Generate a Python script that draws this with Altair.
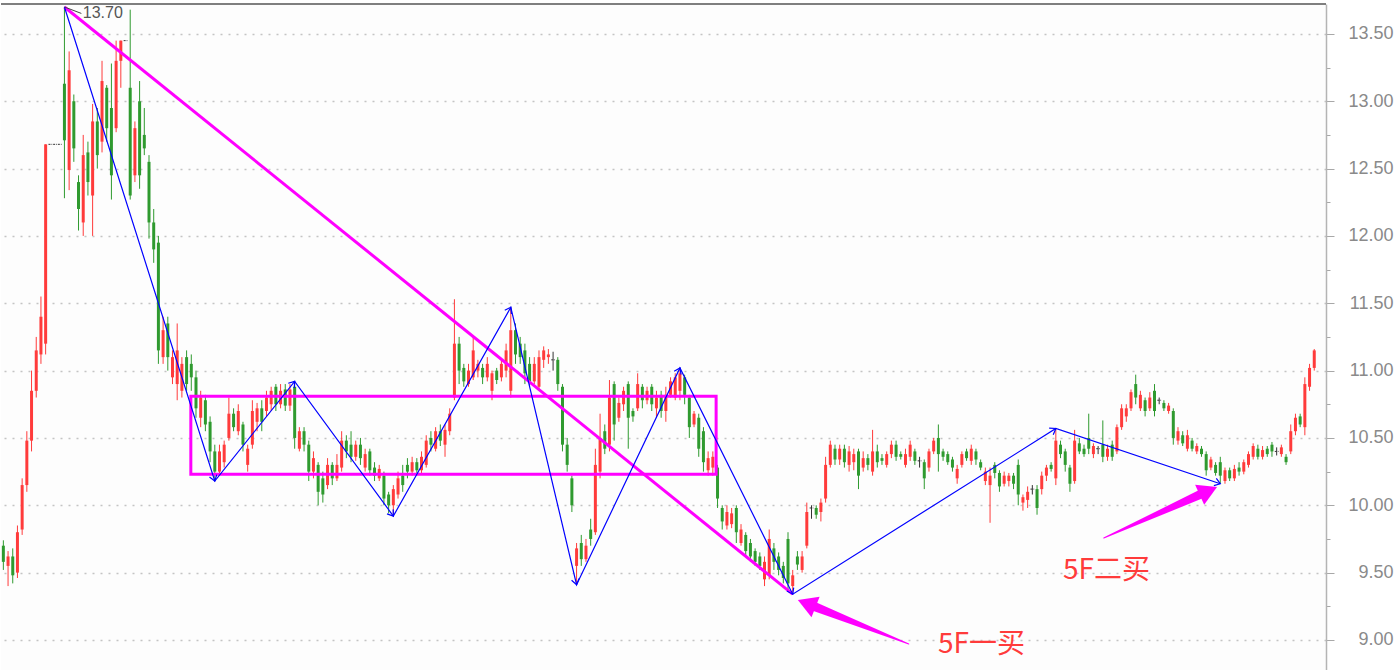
import math
import altair as alt
import pandas as pd

# 5-minute bars: open / high / low / close
opens = [
    9.70, 9.55, 9.62, 9.50, 9.82, 10.15, 10.48, 10.85, 11.12, 11.20,
    12.68, 12.68, 12.68, 13.13, 12.49, 13.00, 12.40, 12.10, 12.62, 12.30,
    12.85, 12.70, 13.10, 12.95, 12.80, 13.30, 13.45, 13.10, 12.45, 13.00,
    12.75, 12.55, 12.10, 11.95, 11.10, 11.35, 10.95, 10.90, 10.85, 11.10,
    11.05, 10.95, 10.65, 10.78, 10.62, 10.40, 10.25, 10.32, 10.50, 10.68,
    10.55, 10.60, 10.30, 10.45, 10.62, 10.72, 10.70, 10.75, 10.88, 10.75,
    10.86, 10.74, 10.88, 10.42, 10.55, 10.45, 10.25, 10.30, 10.20, 10.15,
    10.30, 10.20, 10.28, 10.48, 10.45, 10.36, 10.45, 10.28, 10.40, 10.28,
    10.20, 10.22, 10.08, 10.00, 10.08, 10.22, 10.30, 10.25, 10.32, 10.26,
    10.30, 10.50, 10.42, 10.55, 10.45, 10.55, 10.80, 11.20, 11.02, 10.90,
    10.95, 11.00, 11.02, 10.95, 10.85, 11.00, 10.95, 11.00, 10.85, 11.30,
    11.20, 11.15, 11.05, 10.92, 10.88, 11.08, 11.10, 11.08, 11.08, 10.88,
    10.45, 10.20, 9.55, 9.72, 9.60, 9.82, 9.80, 10.25, 10.55, 10.45,
    10.90, 10.65, 10.75, 10.90, 10.70, 10.72, 10.88, 10.78, 10.88, 10.72,
    10.82, 10.70, 10.82, 10.80, 10.85, 10.95, 10.80, 10.60, 10.65, 10.55,
    10.26, 10.28, 10.28, 9.98, 9.85, 9.86, 9.98, 9.72, 9.78, 9.72,
    9.66, 9.62, 9.45, 9.48, 9.68, 9.62, 9.55, 9.75, 9.40, 9.62,
    9.52, 9.70, 9.98, 9.98, 9.95, 10.05, 10.30, 10.42, 10.34, 10.42,
    10.30, 10.32, 10.40, 10.28, 10.35, 10.25, 10.40, 10.35, 10.30, 10.38,
    10.45, 10.38, 10.30, 10.36, 10.40, 10.33, 10.32, 10.28, 10.40, 10.50,
    10.40, 10.38, 10.34, 10.20, 10.30, 10.40, 10.33, 10.40, 10.32, 10.18,
    10.15, 10.30, 10.24, 10.16, 10.18, 10.22, 10.30, 10.02, 10.04, 10.12,
    10.12, 10.12, 10.22, 10.30, 10.20, 10.45, 10.40, 10.28, 10.18, 10.46,
    10.42, 10.50, 10.38, 10.42, 10.45, 10.36, 10.45, 10.40, 10.58, 10.66,
    10.72, 10.90, 10.72, 10.78, 10.72, 10.85, 10.78, 10.76, 10.70, 10.70,
    10.48, 10.52, 10.42, 10.48, 10.40, 10.42, 10.38, 10.28, 10.30, 10.32,
    10.18, 10.26, 10.20, 10.28, 10.25, 10.30, 10.36, 10.42, 10.36, 10.42,
    10.45, 10.40, 10.38, 10.36, 10.40, 10.55, 10.66, 10.58, 10.88, 11.02,
]
highs = [
    9.74, 9.66, 9.68, 9.85, 10.20, 10.55, 11.00, 11.25, 11.55, 12.68,
    12.68, 12.68, 12.68, 13.70, 13.37, 13.05, 12.45, 12.75, 12.70, 12.98,
    12.95, 13.30, 13.12, 13.28, 13.45, 13.45, 13.45, 13.68, 12.85, 13.15,
    12.95, 12.60, 12.20, 12.00, 11.40, 11.40, 11.15, 11.35, 11.10, 11.15,
    11.12, 11.00, 10.85, 10.82, 10.66, 10.45, 10.45, 10.48, 10.80, 10.72,
    10.75, 10.62, 10.45, 10.78, 10.76, 10.78, 10.85, 10.88, 10.90, 10.90,
    10.90, 10.90, 10.92, 10.58, 10.58, 10.48, 10.40, 10.32, 10.25, 10.35,
    10.32, 10.38, 10.55, 10.52, 10.55, 10.48, 10.50, 10.42, 10.42, 10.32,
    10.30, 10.25, 10.10, 10.15, 10.25, 10.30, 10.35, 10.36, 10.35, 10.40,
    10.52, 10.55, 10.58, 10.60, 10.60, 10.72, 11.53, 11.25, 11.05, 11.05,
    11.25, 11.08, 11.05, 11.10, 11.00, 11.02, 11.08, 11.20, 11.47, 11.35,
    11.25, 11.20, 11.10, 11.10, 11.15, 11.18, 11.16, 11.14, 11.10, 10.90,
    10.50, 10.22, 9.72, 9.78, 9.75, 9.90, 10.42, 10.68, 10.60, 10.93,
    10.92, 10.80, 10.88, 10.92, 10.72, 10.98, 10.90, 10.88, 10.90, 10.85,
    10.85, 10.88, 10.95, 10.98, 11.02, 10.97, 10.82, 10.70, 10.68, 10.58,
    10.40, 10.40, 10.30, 10.00, 10.00, 9.98, 10.00, 9.86, 9.80, 9.75,
    9.68, 9.65, 9.62, 9.82, 9.72, 9.65, 9.58, 9.80, 9.52, 9.66,
    9.66, 10.02, 10.00, 10.00, 10.05, 10.36, 10.48, 10.45, 10.45, 10.45,
    10.44, 10.42, 10.42, 10.40, 10.38, 10.56, 10.45, 10.38, 10.40, 10.48,
    10.48, 10.40, 10.42, 10.48, 10.42, 10.36, 10.34, 10.42, 10.50, 10.60,
    10.42, 10.40, 10.36, 10.30, 10.40, 10.42, 10.45, 10.42, 10.34, 10.28,
    10.28, 10.32, 10.26, 10.25, 10.24, 10.24, 10.34, 10.08, 10.14, 10.15,
    10.15, 10.25, 10.30, 10.32, 10.57, 10.48, 10.42, 10.30, 10.56, 10.50,
    10.45, 10.68, 10.46, 10.44, 10.63, 10.45, 10.48, 10.60, 10.75, 10.75,
    10.86, 10.97, 10.85, 10.80, 10.84, 10.90, 10.80, 10.78, 10.76, 10.72,
    10.58, 10.55, 10.56, 10.50, 10.46, 10.44, 10.40, 10.36, 10.32, 10.36,
    10.28, 10.28, 10.30, 10.32, 10.34, 10.40, 10.46, 10.45, 10.44, 10.44,
    10.47, 10.43, 10.45, 10.38, 10.60, 10.68, 10.68, 10.95, 11.05, 11.16,
]
lows = [
    9.52, 9.40, 9.42, 9.46, 9.78, 10.10, 10.40, 10.80, 11.05, 11.12,
    12.68, 12.68, 12.68, 12.28, 12.34, 12.55, 12.04, 12.00, 12.30, 12.00,
    12.50, 12.62, 12.70, 12.27, 12.77, 13.10, 13.45, 12.27, 12.40, 12.35,
    12.60, 11.98, 11.80, 11.05, 11.05, 11.00, 10.90, 10.78, 10.80, 10.85,
    10.85, 10.65, 10.58, 10.55, 10.32, 10.18, 10.22, 10.28, 10.48, 10.55,
    10.52, 10.40, 10.25, 10.42, 10.55, 10.55, 10.66, 10.70, 10.70, 10.72,
    10.70, 10.70, 10.42, 10.40, 10.40, 10.18, 10.20, 10.00, 10.02, 10.12,
    10.15, 10.18, 10.25, 10.35, 10.32, 10.33, 10.30, 10.25, 10.22, 10.18,
    10.18, 10.00, 9.94, 9.92, 10.05, 10.10, 10.20, 10.22, 10.22, 10.24,
    10.28, 10.40, 10.40, 10.44, 10.36, 10.52, 10.78, 10.90, 10.88, 10.88,
    10.93, 10.95, 10.90, 10.92, 10.78, 10.90, 10.92, 10.95, 10.80, 11.05,
    11.05, 10.90, 10.88, 10.90, 10.85, 11.02, 11.05, 11.00, 10.85, 10.40,
    10.25, 9.95, 9.41, 9.55, 9.58, 9.70, 9.78, 10.20, 10.38, 10.40,
    10.48, 10.62, 10.70, 10.42, 10.62, 10.70, 10.72, 10.75, 10.70, 10.65,
    10.65, 10.62, 10.80, 10.78, 10.78, 10.75, 10.50, 10.58, 10.36, 10.25,
    10.22, 10.22, 9.98, 9.82, 9.82, 9.83, 9.72, 9.70, 9.62, 9.58,
    9.55, 9.52, 9.40, 9.45, 9.52, 9.48, 9.42, 9.36, 9.34, 9.52,
    9.50, 9.68, 9.90, 9.90, 9.88, 10.02, 10.28, 10.30, 10.30, 10.28,
    10.25, 10.26, 10.12, 10.25, 10.26, 10.22, 10.28, 10.30, 10.28, 10.35,
    10.33, 10.34, 10.28, 10.33, 10.30, 10.28, 10.12, 10.25, 10.38, 10.25,
    10.33, 10.30, 10.25, 10.16, 10.28, 10.33, 10.30, 10.30, 10.26, 10.15,
    9.87, 10.20, 10.10, 10.14, 10.14, 10.12, 10.00, 9.96, 9.98, 10.08,
    9.93, 10.08, 10.18, 10.25, 10.15, 10.35, 10.25, 10.10, 10.16, 10.38,
    10.36, 10.38, 10.35, 10.38, 10.32, 10.33, 10.33, 10.38, 10.56, 10.62,
    10.70, 10.75, 10.70, 10.66, 10.70, 10.66, 10.75, 10.70, 10.68, 10.45,
    10.45, 10.44, 10.40, 10.40, 10.38, 10.36, 10.22, 10.26, 10.22, 10.16,
    10.16, 10.18, 10.18, 10.22, 10.23, 10.28, 10.34, 10.34, 10.34, 10.36,
    10.36, 10.37, 10.36, 10.30, 10.38, 10.52, 10.58, 10.52, 10.85, 11.00,
]
closes = [
    9.58, 9.62, 9.48, 9.80, 10.15, 10.48, 10.85, 11.15, 11.40, 12.68,
    12.68, 12.68, 12.68, 12.71, 13.23, 12.65, 12.20, 12.60, 12.40, 12.85,
    12.60, 13.15, 12.80, 12.45, 13.30, 13.45, 13.45, 12.30, 12.80, 12.45,
    12.65, 12.10, 11.90, 11.15, 11.30, 11.10, 11.10, 11.15, 11.05, 10.90,
    10.95, 10.72, 10.80, 10.60, 10.40, 10.25, 10.40, 10.45, 10.68, 10.58,
    10.70, 10.45, 10.42, 10.70, 10.72, 10.62, 10.80, 10.85, 10.75, 10.85,
    10.74, 10.86, 10.50, 10.55, 10.45, 10.25, 10.35, 10.10, 10.08, 10.30,
    10.20, 10.30, 10.48, 10.40, 10.36, 10.45, 10.35, 10.38, 10.26, 10.22,
    10.27, 10.05, 10.00, 10.12, 10.20, 10.15, 10.25, 10.32, 10.26, 10.36,
    10.48, 10.45, 10.55, 10.48, 10.56, 10.68, 11.20, 11.00, 10.92, 11.00,
    11.15, 11.05, 10.95, 11.05, 10.98, 10.93, 11.05, 11.15, 11.30, 11.12,
    11.10, 10.98, 10.92, 11.05, 11.10, 11.15, 11.12, 11.08, 10.90, 10.45,
    10.30, 10.00, 9.68, 9.60, 9.70, 9.75, 10.30, 10.50, 10.42, 10.80,
    10.60, 10.76, 10.85, 10.65, 10.66, 10.90, 10.78, 10.85, 10.75, 10.80,
    10.70, 10.82, 10.92, 10.95, 10.98, 10.82, 10.58, 10.68, 10.42, 10.32,
    10.35, 10.36, 10.05, 9.88, 9.95, 9.94, 9.80, 9.82, 9.66, 9.62,
    9.58, 9.55, 9.58, 9.75, 9.58, 9.52, 9.46, 9.42, 9.48, 9.56,
    9.62, 9.95, 9.98, 9.93, 10.02, 10.30, 10.45, 10.34, 10.42, 10.32,
    10.40, 10.38, 10.22, 10.35, 10.30, 10.40, 10.32, 10.33, 10.38, 10.45,
    10.36, 10.36, 10.38, 10.45, 10.33, 10.33, 10.20, 10.40, 10.48, 10.38,
    10.36, 10.32, 10.28, 10.27, 10.38, 10.35, 10.42, 10.34, 10.28, 10.25,
    10.22, 10.24, 10.14, 10.22, 10.22, 10.16, 10.08, 10.06, 10.10, 10.12,
    9.98, 10.22, 10.28, 10.27, 10.48, 10.38, 10.30, 10.16, 10.48, 10.40,
    10.38, 10.42, 10.44, 10.42, 10.36, 10.42, 10.36, 10.58, 10.72, 10.72,
    10.84, 10.80, 10.82, 10.70, 10.80, 10.70, 10.78, 10.72, 10.74, 10.50,
    10.55, 10.46, 10.52, 10.42, 10.44, 10.38, 10.26, 10.34, 10.24, 10.22,
    10.26, 10.20, 10.27, 10.25, 10.32, 10.38, 10.44, 10.36, 10.41, 10.38,
    10.40, 10.40, 10.43, 10.32, 10.55, 10.65, 10.60, 10.90, 11.02, 11.15,
]

# price-axis ticks (labelled every 0.50, minor marks every 0.25)
tick_values = [9.0, 9.25, 9.5, 9.75, 10.0, 10.25, 10.5, 10.75, 11.0, 11.25,
               11.5, 11.75, 12.0, 12.25, 12.5, 12.75, 13.0, 13.25, 13.5]

# stroke (笔) pivots: bar index and price
stroke_idx = [13, 45, 62, 83, 108, 122, 144, 168, 224, 259]
stroke_px = [13.70, 10.18, 10.92, 9.92, 11.47, 9.41, 11.02, 9.34, 10.57, 10.16]

# central pivot zone
box_idx = [39.9, 151.7]
box_px = [10.23, 10.81]

# descending trend line
trend_idx = [13, 168]
trend_px = [13.70, 9.34]

# buy-point call-outs
label_text = ["5F一买", "5F二买"]
label_idx = [198.9, 225.5]
label_px = [8.962, 9.512]
arrow_tail_idx = [192.7, 234.2]
arrow_tail_px = [8.970, 9.757]
arrow_tip_idx = [169.1, 258.3]
arrow_tip_px = [9.297, 10.136]

# high-price tag
peak_label = "13.70"
peak_label_idx = 16.9
peak_label_px = 13.652

RED = "#ff3b3b"
GREEN = "#2f9a2f"
DOJI = "#333333"
BLUE = "#0000ff"
MAGENTA = "#ff00ff"

W, H = 1325, 666
X_DOMAIN = [-0.5, 281.5]
Y_DOMAIN = [8.777, 13.722]
PX_I = W / (X_DOMAIN[1] - X_DOMAIN[0])
PX_P = H / (Y_DOMAIN[1] - Y_DOMAIN[0])

bars = pd.DataFrame({"i": range(len(opens)), "o": opens, "h": highs,
                     "l": lows, "c": closes})
bars["dir"] = ["up" if c > o else ("down" if c < o else "flat")
               for o, c in zip(bars["o"], bars["c"])]

xs = alt.Scale(domain=X_DOMAIN, nice=False, zero=False)
ys = alt.Scale(domain=Y_DOMAIN, nice=False, zero=False)
minor = "datum.value % 0.5 != 0"
y_axis = alt.Axis(
    orient="right", values=tick_values, title=None,
    labelExpr="datum.value % 0.5 == 0 ? format(datum.value, '.2f') : ''",
    tickSize={"condition": {"test": minor, "value": 4}, "value": 8},
    gridOpacity={"condition": {"test": minor, "value": 0}, "value": 1},
    grid=True, gridColor="#c4c4c4", gridDash=[2, 6], gridWidth=1.3,
    domainColor="#b4b4b4", domainWidth=1.5, tickColor="#a8a8a8", tickWidth=1,
    labelColor="#8a8a8a", labelFont="Liberation Sans", labelFontSize=18,
    labelAlign="right", labelBaseline="middle", labelPadding=59,
    labelOverlap=False,
)


def X(field):
    return alt.X(field, type="quantitative", scale=xs, axis=None)


def Y(field):
    return alt.Y(field, type="quantitative", scale=ys, axis=y_axis)


color = alt.Color("dir:N", legend=None,
                  scale=alt.Scale(domain=["up", "down", "flat"],
                                  range=[RED, GREEN, DOJI]))

base = alt.Chart(bars)
wicks = base.mark_rule(strokeWidth=1).encode(
    x=X("i"), y=Y("l"), y2="h:Q", color=color)
bodies = base.transform_filter("datum.o != datum.c").mark_rule(
    strokeWidth=3).encode(x=X("i"), y=Y("o"), y2="c:Q", color=color)
dojis = base.transform_filter("datum.o == datum.c").transform_calculate(
    xa="datum.i - 0.4", xb="datum.i + 0.4").mark_rule(
    strokeWidth=1, strokeDash=[2, 1]).encode(
    x=X("xa"), x2="xb:Q", y=Y("c"), color=color)

# top frame line
frame = alt.Chart(pd.DataFrame({"k": [0]})).mark_rule(
    color="#555555", strokeWidth=1.5).encode(
    x=alt.value(0), x2=alt.value(W), y=alt.value(0))

# pivot zone rectangle
box = alt.Chart(pd.DataFrame({"x0": [box_idx[0]], "x1": [box_idx[1]],
                              "y0": [box_px[0]], "y1": [box_px[1]]})
                ).mark_rect(fillOpacity=0, stroke=MAGENTA, strokeWidth=3).encode(
    x=X("x0"), x2="x1:Q", y=Y("y0"), y2="y1:Q")

trend = alt.Chart(pd.DataFrame({"i": trend_idx, "p": trend_px})).mark_line(
    color=MAGENTA, strokeWidth=3).encode(x=X("i"), y=Y("p"))

# stroke zigzag with arrowheads at each pivot
zz = pd.DataFrame({"seq": range(len(stroke_idx)), "i": stroke_idx, "p": stroke_px})
zig = alt.Chart(zz).mark_line(color=BLUE, strokeWidth=1.2).encode(
    x=X("i"), y=Y("p"), order="seq:Q")

heads = []
for k in range(1, len(stroke_idx)):
    dx = (stroke_idx[k] - stroke_idx[k - 1]) * PX_I
    dy = -(stroke_px[k] - stroke_px[k - 1]) * PX_P
    ang = math.degrees(math.atan2(dx, -dy)) % 360
    heads.append({"i": stroke_idx[k], "p": stroke_px[k], "ang": ang})
chevrons = alt.Chart(pd.DataFrame(heads)).mark_point(
    shape="M-0.7,1L0,0L0.7,1", filled=False, color=BLUE, strokeWidth=1.2,
    size=120, opacity=1).encode(
    x=X("i"), y=Y("p"), angle=alt.Angle("ang:Q", scale=None))

# magenta call-out arrows: tapered shaft + triangular head
shaft_rows, head_rows = [], []
HEAD_LEN = 19.0
for a in range(len(arrow_tip_idx)):
    dx = (arrow_tip_idx[a] - arrow_tail_idx[a]) * PX_I
    dy = -(arrow_tip_px[a] - arrow_tail_px[a]) * PX_P
    ln = math.hypot(dx, dy)
    ux, uy = dx / ln, dy / ln
    ang = math.degrees(math.atan2(ux, -uy)) % 360
    ci = arrow_tip_idx[a] - (HEAD_LEN / 2) * ux / PX_I
    cp = arrow_tip_px[a] + (HEAD_LEN / 2) * uy / PX_P
    bi = arrow_tip_idx[a] - (HEAD_LEN - 2) * ux / PX_I
    bp = arrow_tip_px[a] + (HEAD_LEN - 2) * uy / PX_P
    shaft_rows.append({"g": a, "i": arrow_tail_idx[a], "p": arrow_tail_px[a], "w": 1.0})
    shaft_rows.append({"g": a, "i": bi, "p": bp, "w": 9.0})
    head_rows.append({"i": ci, "p": cp, "ang": ang})

shafts = alt.Chart(pd.DataFrame(shaft_rows)).mark_trail(color=MAGENTA).encode(
    x=X("i"), y=Y("p"), detail="g:N",
    size=alt.Size("w:Q", scale=None, legend=None))
arrow_heads = alt.Chart(pd.DataFrame(head_rows)).mark_point(
    shape="triangle-up", filled=True, color=MAGENTA, size=484, opacity=1).encode(
    x=X("i"), y=Y("p"), angle=alt.Angle("ang:Q", scale=None))

labels = alt.Chart(pd.DataFrame({"t": label_text, "i": label_idx, "p": label_px})
                   ).mark_text(align="left", baseline="middle", fontSize=28,
                               font="Noto Sans CJK SC", color=RED).encode(
    x=X("i"), y=Y("p"), text="t:N")

peak_tag = alt.Chart(pd.DataFrame({"t": [peak_label], "i": [peak_label_idx],
                                   "p": [peak_label_px]})).mark_text(
    align="left", baseline="middle", fontSize=16, font="Liberation Sans",
    color="#555555").encode(x=X("i"), y=Y("p"), text="t:N")
peak_leader = alt.Chart(pd.DataFrame({"i": [stroke_idx[0]], "p": [stroke_px[0]],
                                      "i2": [peak_label_idx - 0.3],
                                      "p2": [peak_label_px]})).mark_rule(
    color="#444444", strokeWidth=1).encode(
    x=X("i"), y=Y("p"), x2="i2:Q", y2="p2:Q")

chart = alt.layer(
    wicks, bodies, dojis, box, trend, zig, chevrons, shafts, arrow_heads,
    labels, peak_leader, peak_tag, frame,
).properties(
    width=W, height=H,
    padding={"left": 0, "top": 0, "right": 2, "bottom": 0},
).configure(background="white").configure_view(stroke=None, fill="#fdfdfd")

chart.save("out.html", embed_options={"renderer": "svg", "actions": False})
